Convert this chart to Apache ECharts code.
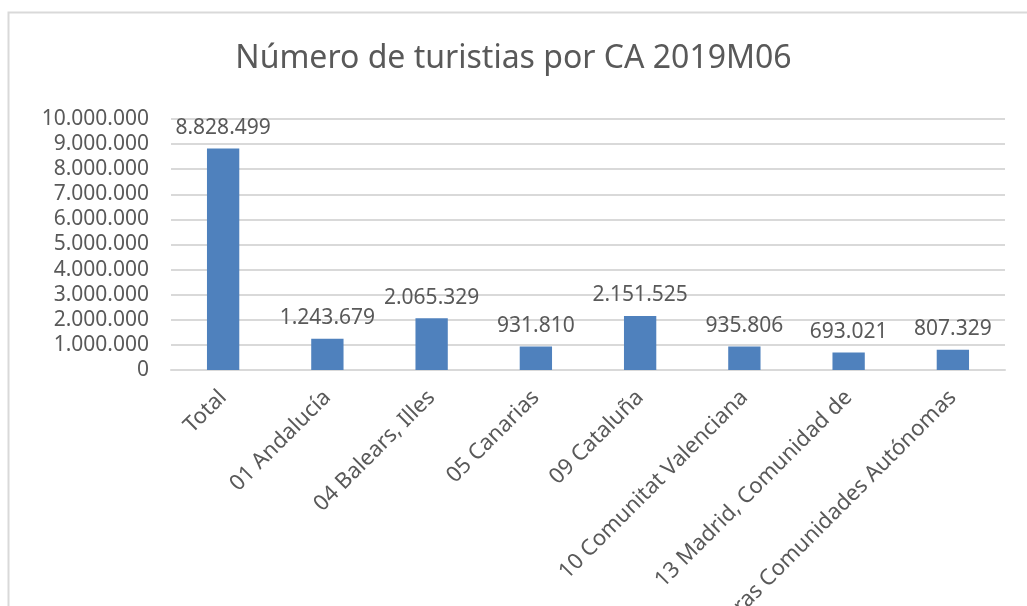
<!DOCTYPE html>
<html>
<head>
<meta charset="utf-8">
<script src="https://cdn.jsdelivr.net/npm/echarts@6/dist/echarts.min.js"></script>
<style>
  html, body { margin: 0; padding: 0; background: #fff; }
  #chart { width: 1027px; height: 606px; }
</style>
</head>
<body>
<div id="chart"></div>
<script>
const categories = [
  "Total",
  "01 Andalucía",
  "04 Balears, Illes",
  "05 Canarias",
  "09 Cataluña",
  "10 Comunitat Valenciana",
  "13 Madrid, Comunidad de",
  "Otras Comunidades Autónomas",
];
const turistas = [8828499, 1243679, 2065329, 931810, 2151525, 935806, 693021, 807329];
const yMax = 10000000;
const yStep = 1000000;

const font = "'Noto Sans', 'Open Sans', sans-serif";
const textColor = "#595959";

// formato español: puntos como separador de miles
function fmt(v) {
  return String(v).replace(/\B(?=(\d{3})+(?!\d))/g, ".");
}

const chart = echarts.init(document.getElementById("chart"));
chart.setOption({
  backgroundColor: "#fff",
  animation: false,
  title: {
    text: "Número de turistias por CA 2019M06",
    left: "center",
    top: 38,
    textStyle: { fontFamily: font, fontSize: 32, fontWeight: "normal", color: textColor },
  },
  graphic: [
    {
      type: "rect",
      shape: { x: 8.5, y: 12.5, width: 1100, height: 700 },
      style: { fill: "none", stroke: "#d9d9d9", lineWidth: 2 },
      silent: true,
    },
  ],
  grid: {
    left: 171, right: 22, top: 119, bottom: 236,
    containLabel: false,
    outerBoundsMode: "none",
  },
  xAxis: {
    type: "category",
    data: categories,
    axisTick: { show: false },
    axisLine: { lineStyle: { color: "#d9d9d9", width: 2 } },
    axisLabel: {
      interval: 0,
      rotate: 45,
      margin: 24,
      fontFamily: font,
      fontSize: 22,
      color: textColor,
    },
  },
  yAxis: {
    type: "value",
    min: 0,
    max: yMax,
    interval: yStep,
    axisLine: { show: false },
    axisTick: { show: false },
    splitLine: { lineStyle: { color: "#d9d9d9", width: 2 } },
    axisLabel: {
      margin: 22,
      fontFamily: font,
      fontSize: 21,
      color: textColor,
      formatter: fmt,
    },
  },
  series: [
    {
      type: "bar",
      data: turistas,
      barWidth: "31%",
      itemStyle: { color: "#4f81bd" },
      label: {
        show: true,
        position: "top",
        distance: 10,
        fontFamily: font,
        fontSize: 21,
        color: textColor,
        formatter: (p) => fmt(p.value),
      },
    },
  ],
});
</script>
</body>
</html>
